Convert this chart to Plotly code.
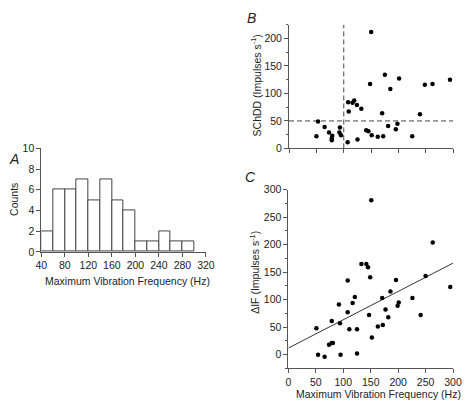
import plotly.graph_objects as go
import numpy as np

# ---------------- data ----------------
# Panel A: histogram of maximum vibration frequency
hist_bin_starts = [40, 60, 80, 100, 120, 140, 160, 180, 200, 220, 240, 260, 280]
hist_counts = [2, 6, 6, 7, 5, 7, 5, 4, 1, 1, 2, 1, 1]
hist_bin_width = 20

# Panel B: SChDD vs max vibration frequency
b_freq = [50, 53, 65, 73, 79, 78, 78, 92, 93, 95, 107, 108, 109, 116, 119, 124, 125, 132,
          141, 145, 148, 150, 151, 162, 170, 172, 175, 181, 185, 195, 198, 201, 225, 239,
          248, 262, 294]
b_schdd = [22, 49, 39, 29, 23, 18, 15, 29, 38, 24, 11, 84, 67, 83, 87, 79, 16, 72,
           33, 31, 117, 212, 24, 21, 64, 22, 134, 41, 108, 35, 45, 127, 22, 62,
           116, 117, 125]
b_freq_threshold = 100
b_schdd_threshold = 50

# Panel C: delta IF vs max vibration frequency
c_freq = [51, 54, 66, 74, 79, 81, 79, 92, 94, 95, 108, 108, 111, 117, 121, 125, 125, 133,
          142, 145, 149, 147, 151, 152, 163, 171, 172, 177, 182, 186, 196, 199, 201, 226,
          241, 250, 263, 295]
c_dif = [48, 0, -4, 18, 21, 21, 61, 91, 57, 0, 77, 135, 46, 94, 105, 46, 2, 165,
         165, 159, 141, 72, 281, 31, 51, 103, 54, 82, 68, 115, 136, 89, 95, 103,
         72, 143, 204, 123]
fit_intercept = 12.0
fit_slope = 0.515

x_ticks_a = [40, 80, 120, 160, 200, 240, 280, 320]
y_ticks_a = [0, 2, 4, 6, 8, 10]

# ---------------- styling ----------------
W, H = 472, 410
FONT = "Liberation Sans, Arial, Helvetica, sans-serif"
FS = 10.5
TXT = "#222222"
AX = "#555555"


def px(x):
    return x / W


def py(y):
    return 1 - y / H


fig = go.Figure()

# A: histogram
bin_centers = [s + hist_bin_width / 2 for s in hist_bin_starts]
fig.add_trace(go.Bar(
    x=bin_centers, y=hist_counts, width=[hist_bin_width] * len(hist_counts),
    marker=dict(color="white", line=dict(color="#444444", width=1)),
    xaxis="x", yaxis="y", hoverinfo="skip"))

# B: scatter and dashed thresholds
fig.add_trace(go.Scatter(
    x=[b_freq_threshold, b_freq_threshold], y=[0, 225], mode="lines",
    line=dict(color="#444444", width=1, dash="5px,3px"), xaxis="x2", yaxis="y2"))
fig.add_trace(go.Scatter(
    x=[0, 300], y=[b_schdd_threshold, b_schdd_threshold], mode="lines",
    line=dict(color="#444444", width=1, dash="5px,3px"), xaxis="x2", yaxis="y2"))
fig.add_trace(go.Scatter(
    x=b_freq, y=b_schdd, mode="markers",
    marker=dict(color="black", size=4.5), xaxis="x2", yaxis="y2"))

# C: scatter and regression line
fit_x = np.array([0, 300])
fit_y = fit_intercept + fit_slope * fit_x
fig.add_trace(go.Scatter(
    x=fit_x, y=fit_y, mode="lines", line=dict(color="#333333", width=1),
    xaxis="x3", yaxis="y3"))
fig.add_trace(go.Scatter(
    x=c_freq, y=c_dif, mode="markers",
    marker=dict(color="black", size=4.5), xaxis="x3", yaxis="y3"))

common = dict(showline=True, linecolor=AX, linewidth=1, ticks="outside", ticklen=4,
              tickcolor=AX, tickwidth=1, showgrid=False, zeroline=False,
              tickfont=dict(family=FONT, size=FS, color=TXT))

fig.update_layout(
    width=W, height=H, margin=dict(l=0, r=0, t=0, b=0),
    paper_bgcolor="white", plot_bgcolor="white", showlegend=False,
    font=dict(family=FONT, size=FS, color=TXT),
    bargap=0,
    xaxis=dict(domain=[px(36.5), px(206.5)], range=[40, 320], tickvals=x_ticks_a,
               anchor="y", **common),
    yaxis=dict(domain=[py(253.3), py(146.7)], range=[0, 10], tickvals=y_ticks_a,
               anchor="x", **common),
    xaxis2=dict(domain=[px(292.3), px(462)], range=[0, 300], dtick=50, tick0=0,
                showticklabels=False, anchor="y2", **common),
    yaxis2=dict(domain=[py(146.7), py(19.3)], range=[0, 225], tickvals=[0, 50, 100, 150, 200],
                minor=dict(dtick=25, tick0=0, ticks="outside", ticklen=2, tickcolor=AX),
                anchor="x2", **common),
    xaxis3=dict(domain=[px(291.7), px(461.7)], range=[0, 300], dtick=50, tick0=0,
                anchor="y3", **common),
    yaxis3=dict(domain=[py(373.3), py(189.3)], range=[-25, 300],
                tickvals=[0, 50, 100, 150, 200, 250, 300],
                minor=dict(dtick=25, tick0=0, ticks="outside", ticklen=2, tickcolor=AX),
                anchor="x3", **common),
)

ann = []


def add_text(text, x, y, angle=0, size=FS, italic=False):
    ann.append(dict(text=f"<i>{text}</i>" if italic else text, x=px(x), y=py(y),
                    xref="paper", yref="paper", showarrow=False, textangle=angle,
                    xanchor="center", yanchor="middle",
                    font=dict(family=FONT, size=size, color=TXT)))


add_text("A", 8, 158, size=14, italic=True)
add_text("B", 254, 12, size=14, italic=True)
add_text("C", 253, 176, size=14, italic=True)
add_text("Counts", 8, 199, angle=-90)
add_text("Maximum Vibration Frequency (Hz)", 125, 283)
add_text("Maximum Vibration Frequency (Hz)", 385, 400)
add_text("SChDD (Impulses s<sup>-1</sup>)", 258, 82, angle=-90)
add_text("ΔIF (Impulses s<sup>-1</sup>)", 257, 274, angle=-90)

fig.update_layout(annotations=ann)

fig.write_html("out.html", config={"displayModeBar": False},
               post_script="document.body.style.margin='0';document.body.style.overflow='hidden';")
